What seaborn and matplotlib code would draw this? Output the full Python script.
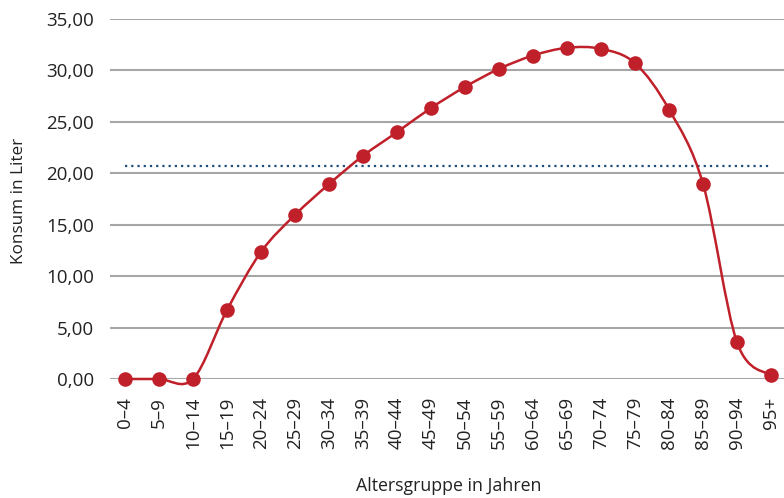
import numpy as np
import pandas as pd
import seaborn as sns
import matplotlib.pyplot as plt
from matplotlib.path import Path
from matplotlib.patches import PathPatch
from matplotlib.ticker import FuncFormatter

age_groups = ['0–4', '5–9', '10–14', '15–19', '20–24', '25–29', '30–34', '35–39',
              '40–44', '45–49', '50–54', '55–59', '60–64', '65–69', '70–74', '75–79',
              '80–84', '85–89', '90–94', '95+']
konsum = [0.0, 0.0, 0.0, 6.7, 12.35, 15.95, 18.95, 21.7, 24.0, 26.35, 28.4, 30.15,
          31.45, 32.2, 32.1, 30.7, 26.2, 18.95, 3.55, 0.35]
mittelwert = 20.7

red = '#c0202a'
df = pd.DataFrame({'x': np.arange(len(age_groups)), 'y': konsum})

sns.set_style('white')
plt.rcParams['font.family'] = ['Open Sans', 'DejaVu Sans']

fig = plt.figure(figsize=(7.84, 4.98), dpi=100)
ax = fig.add_axes([110 / 784, 1 - 379 / 498, 674 / 784, 360 / 498])

# geglättete Linie wie in Excel (Bezier durch die Punkte)
pts = df[['x', 'y']].to_numpy()
verts = [tuple(pts[0])]
codes = [Path.MOVETO]
n = len(pts)
for i in range(n - 1):
    p0 = pts[max(i - 1, 0)]
    p1 = pts[i]
    p2 = pts[i + 1]
    p3 = pts[min(i + 2, n - 1)]
    c1 = p1 + (p2 - p0) / 6
    c2 = p2 - (p3 - p1) / 6
    verts += [tuple(c1), tuple(c2), tuple(p2)]
    codes += [Path.CURVE4] * 3
ax.add_patch(PathPatch(Path(verts, codes), facecolor='none', edgecolor=red,
                       linewidth=1.8, clip_on=False, zorder=3))

ax.plot([0, len(age_groups) - 1], [mittelwert, mittelwert], color='#1f4e79',
        linestyle=(0, (1, 1.8)), linewidth=1.6, zorder=2)

sns.scatterplot(data=df, x='x', y='y', color=red, s=110, edgecolor=red,
                linewidth=0, ax=ax, zorder=4, clip_on=False)

ax.set_xlim(-0.44, 19.38)
ax.set_ylim(0, 35)
ax.set_yticks(np.arange(0, 36, 5))
ax.yaxis.set_major_formatter(FuncFormatter(lambda v, p: f'{v:.2f}'.replace('.', ',')))
ax.set_xticks(df['x'])
ax.set_xticklabels(age_groups, rotation=90)
ax.grid(axis='y', color='#a6a6a6', linewidth=1.5)
ax.grid(axis='x', visible=False)
for s in ax.spines.values():
    s.set_visible(False)
ax.tick_params(axis='both', length=0, labelsize=13.5, colors='#222222')
ax.tick_params(axis='x', pad=13)
ax.tick_params(axis='y', pad=11.5)

ax.set_xlabel('Altersgruppe in Jahren', fontsize=12.8, color='#222222')
ax.set_ylabel('Konsum in Liter', fontsize=12.3, color='#222222')
ax.xaxis.set_label_coords((449 - 110) / 674, -(477 - 379) / 360)
ax.yaxis.set_label_coords(-(110 - 27) / 674, (379 - 201) / 360)

fig.savefig('out.png', dpi=100)
